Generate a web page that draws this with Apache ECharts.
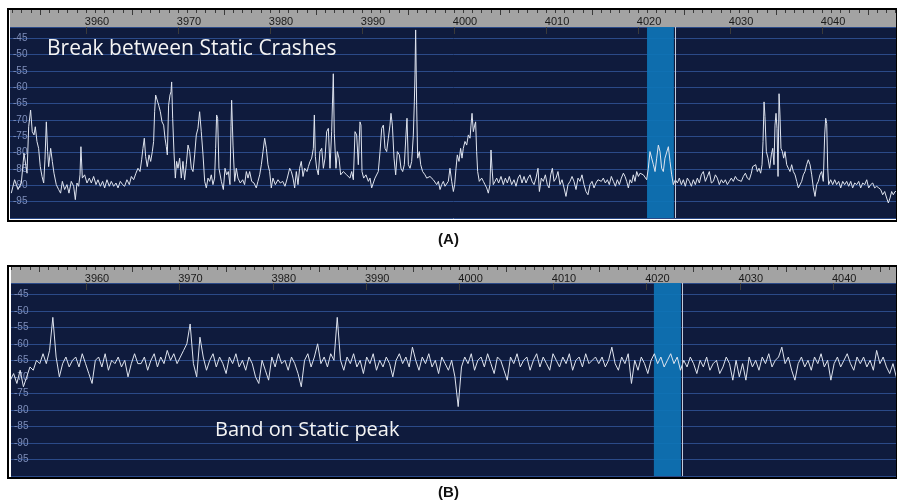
<!DOCTYPE html>
<html>
<head>
<meta charset="utf-8">
<script src="https://cdn.jsdelivr.net/npm/echarts@6/dist/echarts.min.js"></script>
<style>
  html, body { margin: 0; padding: 0; background: #fff; }
  #chart { width: 897px; height: 504px; }
</style>
</head>
<body>
<div id="chart"></div>
<script>
/* two spectrum snapshots, kHz vs dB */

// panel A trace, [kHz, dB]
const traceA = [
  [3951.88,-92.4],[3952.24,-88.3],[3952.61,-91.3],[3952.97,-89.3],[3953.26,-80.2],[3953.40,-80.7],[3953.59,-86.3],[3953.77,-72.1],
  [3953.98,-67.0],[3954.16,-73.6],[3954.35,-74.6],[3954.49,-72.1],[3954.67,-76.6],[3954.85,-78.7],[3955.03,-84.3],[3955.22,-87.3],
  [3955.40,-89.3],[3955.54,-82.2],[3955.69,-70.6],[3955.83,-79.7],[3955.94,-84.3],[3956.16,-78.7],[3956.34,-82.7],[3956.52,-86.3],
  [3956.77,-89.8],[3957.03,-91.3],[3957.24,-92.4],[3957.43,-88.8],[3957.68,-91.3],[3957.93,-89.8],[3958.15,-92.4],[3958.40,-88.8],
  [3958.66,-90.3],[3958.84,-94.4],[3959.02,-89.3],[3959.20,-90.3],[3959.35,-86.8],[3959.45,-78.2],[3959.60,-87.8],[3959.85,-86.8],
  [3960.11,-89.3],[3960.36,-87.8],[3960.58,-89.3],[3960.83,-87.3],[3961.09,-89.8],[3961.30,-88.3],[3961.56,-90.3],[3961.81,-88.8],
  [3962.03,-90.8],[3962.28,-88.3],[3962.53,-90.3],[3962.75,-88.8],[3963.01,-90.3],[3963.26,-89.3],[3963.48,-90.8],[3963.73,-88.8],
  [3963.98,-89.8],[3964.20,-90.3],[3964.45,-88.3],[3964.71,-89.8],[3964.93,-87.3],[3965.18,-88.3],[3965.43,-86.3],[3965.65,-84.8],
  [3965.87,-85.8],[3966.05,-82.2],[3966.19,-78.7],[3966.34,-75.6],[3966.48,-81.2],[3966.66,-84.3],[3966.85,-80.7],[3967.03,-82.7],
  [3967.21,-79.7],[3967.35,-76.6],[3967.46,-67.5],[3967.57,-62.4],[3967.72,-62.9],[3967.90,-65.5],[3968.08,-67.5],[3968.26,-70.6],
  [3968.44,-71.6],[3968.59,-75.6],[3968.73,-78.2],[3968.84,-80.7],[3968.98,-65.5],[3969.13,-62.4],[3969.24,-61.4],[3969.31,-58.4],
  [3969.42,-69.5],[3969.56,-79.7],[3969.71,-87.8],[3969.85,-82.7],[3970.00,-84.8],[3970.18,-81.7],[3970.36,-87.8],[3970.54,-82.7],
  [3970.72,-88.3],[3970.90,-83.7],[3971.09,-77.7],[3971.27,-79.7],[3971.45,-84.8],[3971.63,-85.8],[3971.81,-80.7],[3971.99,-74.6],
  [3972.17,-72.6],[3972.35,-67.5],[3972.53,-73.6],[3972.72,-80.7],[3972.90,-88.8],[3973.08,-90.8],[3973.26,-87.8],[3973.44,-88.8],
  [3973.62,-86.8],[3973.80,-89.8],[3973.98,-87.8],[3974.09,-78.7],[3974.20,-68.5],[3974.31,-69.5],[3974.45,-84.8],[3974.71,-88.8],
  [3974.93,-91.3],[3975.11,-84.8],[3975.29,-86.8],[3975.47,-85.8],[3975.65,-89.8],[3975.76,-72.1],[3975.83,-64.0],[3975.98,-77.7],
  [3976.16,-88.8],[3976.34,-84.8],[3976.52,-87.8],[3976.77,-89.3],[3977.03,-88.3],[3977.24,-89.8],[3977.43,-85.8],[3977.61,-87.8],
  [3977.79,-85.8],[3978.01,-88.8],[3978.26,-89.3],[3978.51,-90.8],[3978.69,-88.8],[3978.88,-86.8],[3979.06,-83.7],[3979.24,-79.7],
  [3979.42,-75.6],[3979.60,-78.7],[3979.78,-83.7],[3979.96,-85.8],[3980.14,-90.8],[3980.32,-87.8],[3980.58,-89.8],[3980.87,-88.3],
  [3981.12,-89.3],[3981.38,-88.8],[3981.63,-90.3],[3981.88,-87.8],[3982.14,-84.8],[3982.32,-85.8],[3982.50,-87.8],[3982.68,-90.8],
  [3982.86,-85.8],[3983.04,-89.8],[3983.22,-84.8],[3983.40,-82.7],[3983.59,-87.3],[3983.77,-84.8],[3984.02,-85.8],
  [3984.17,-84.3],[3984.35,-82.7],[3984.53,-81.7],[3984.71,-78.7],[3984.82,-68.5],[3984.93,-81.2],[3985.07,-84.8],[3985.25,-86.8],
  [3985.43,-79.7],[3985.62,-78.7],[3985.80,-84.8],[3985.98,-81.7],[3986.16,-73.6],[3986.34,-72.6],[3986.52,-84.8],[3986.70,-73.6],
  [3986.81,-63.0],[3986.88,-55.9],[3986.99,-74.1],[3987.17,-84.8],[3987.32,-79.7],[3987.50,-81.7],[3987.68,-86.8],[3987.97,-85.8],
  [3988.33,-86.8],[3988.69,-87.8],[3988.88,-85.8],[3989.06,-88.3],[3989.24,-73.6],[3989.42,-74.6],[3989.60,-83.7],[3989.78,-70.6],
  [3989.89,-71.6],[3990.00,-85.8],[3990.18,-87.8],[3990.43,-86.8],[3990.69,-88.8],[3990.87,-87.8],[3991.05,-90.8],[3991.23,-91.3],
  [3991.41,-87.8],[3991.59,-88.3],[3991.77,-85.8],[3991.96,-79.7],[3992.14,-72.6],[3992.32,-71.6],[3992.50,-78.7],[3992.68,-79.7],
  [3992.86,-75.6],[3993.04,-71.6],[3993.15,-68.0],[3993.30,-71.6],[3993.48,-81.7],[3993.66,-86.8],[3993.84,-79.7],[3994.06,-80.7],
  [3994.24,-84.8],[3994.42,-85.8],[3994.60,-83.7],[3994.78,-74.6],[3994.89,-69.5],[3995.04,-83.7],[3995.22,-84.8],[3995.40,-82.7],
  [3995.58,-74.6],[3995.69,-64.5],[3995.76,-56.0],[3995.83,-42.5],[3995.94,-65.5],[3996.05,-81.7],[3996.23,-79.7],[3996.38,-83.7],
  [3996.59,-85.8],[3996.85,-86.8],[3997.03,-87.8],[3997.39,-87.3],[3997.75,-88.3],[3998.12,-89.8],[3998.30,-88.8],[3998.48,-91.3],
  [3998.66,-89.8],[3998.84,-88.8],[3999.02,-90.3],[3999.20,-90.8],[3999.38,-88.8],[3999.56,-84.8],[3999.75,-88.8],[3999.93,-91.9],
  [4000.07,-89.8],[4000.22,-84.8],[4000.36,-80.7],[4000.54,-82.7],[4000.72,-78.7],[4000.87,-81.7],[4001.01,-78.7],[4001.19,-76.6],
  [4001.38,-77.7],[4001.56,-74.6],[4001.74,-75.6],[4001.85,-71.6],[4001.96,-68.0],[4002.10,-73.6],[4002.25,-71.6],[4002.35,-70.6],
  [4002.46,-79.7],[4002.57,-85.8],[4002.75,-88.8],[4003.01,-87.8],[4003.19,-88.8],[4003.37,-89.8],[4003.55,-90.8],[4003.73,-92.4],
  [4003.91,-89.8],[4004.02,-79.2],[4004.13,-84.8],[4004.27,-89.8],[4004.46,-88.8],[4004.64,-87.8],[4004.85,-89.3],[4005.11,-87.3],
  [4005.36,-89.8],[4005.58,-87.8],[4005.80,-89.3],[4006.01,-87.3],[4006.27,-89.8],[4006.52,-88.3],[4006.74,-90.3],[4006.96,-87.8],
  [4007.17,-86.8],[4007.39,-89.3],[4007.61,-87.3],[4007.83,-89.3],[4008.04,-87.8],[4008.26,-86.8],[4008.48,-88.8],[4008.70,-89.8],
  [4008.91,-87.8],[4009.13,-84.8],[4009.28,-91.9],[4009.49,-87.8],[4009.71,-88.8],[4009.93,-86.8],[4010.14,-89.8],[4010.33,-90.8],
  [4010.51,-86.8],[4010.69,-84.8],[4010.87,-88.8],[4011.09,-87.8],[4011.30,-85.8],[4011.52,-89.8],[4011.74,-88.3],[4011.96,-90.8],
  [4012.17,-93.4],[4012.39,-89.8],[4012.61,-88.8],[4012.83,-87.3],[4013.04,-88.8],[4013.26,-91.3],[4013.48,-87.8],[4013.69,-88.8],
  [4013.91,-86.8],[4014.13,-89.8],[4014.35,-91.9],[4014.56,-92.9],[4014.78,-89.8],[4015.00,-88.8],[4015.22,-90.8],[4015.43,-89.3],
  [4015.65,-88.3],
  [4016.01,-88.8],[4016.23,-87.8],[4016.45,-89.3],[4016.67,-88.3],[4016.88,-89.8],[4017.10,-87.3],[4017.32,-88.8],[4017.54,-90.3],
  [4017.75,-88.3],[4017.97,-89.8],[4018.19,-87.8],[4018.41,-86.3],[4018.59,-87.3],[4018.77,-88.8],[4018.95,-90.8],[4019.13,-88.3],
  [4019.31,-89.3],[4019.49,-86.8],[4019.67,-88.8],[4019.86,-85.8],[4020.04,-87.3],[4020.22,-86.3],[4020.40,-85.8],[4020.58,-86.8],
  [4020.76,-87.3],[4020.94,-88.3],[4021.12,-84.8],[4021.30,-79.7],[4021.49,-79.2],[4021.67,-83.7],[4021.85,-85.8],[4022.03,-81.7],
  [4022.21,-77.7],[4022.39,-79.7],[4022.57,-84.8],[4022.75,-85.8],[4022.93,-81.7],[4023.12,-81.7],[4023.30,-78.2],[4023.48,-82.7],
  [4023.66,-86.8],[4023.84,-89.8],[4024.06,-88.3],[4024.28,-89.3],[4024.49,-87.8],[4024.71,-89.8],[4024.93,-88.3],[4025.14,-90.3],
  [4025.36,-87.8],[4025.58,-88.8],[4025.80,-90.3],[4026.01,-88.3],[4026.23,-89.8],[4026.45,-87.8],[4026.67,-89.3],[4026.88,-86.8],
  [4027.10,-85.8],[4027.32,-88.8],[4027.54,-87.3],[4027.75,-85.8],[4027.97,-89.3],[4028.19,-88.8],[4028.41,-86.8],[4028.62,-87.8],
  [4028.84,-89.8],[4029.06,-88.3],[4029.28,-89.3],[4029.49,-88.3],[4029.71,-89.8],[4029.93,-88.8],[4030.14,-87.8],[4030.36,-88.8],
  [4030.58,-87.3],[4030.80,-88.3],[4031.01,-87.8],[4031.23,-88.8],[4031.45,-87.3],[4031.67,-86.3],[4031.88,-87.8],[4032.10,-88.3],
  [4032.32,-86.3],[4032.46,-84.3],[4032.61,-84.8],[4032.79,-83.7],[4032.97,-85.8],[4033.15,-84.8],[4033.33,-86.3],[4033.48,-83.7],
  [4033.59,-76.6],[4033.70,-64.5],[4033.80,-69.0],[4033.95,-79.7],[4034.13,-81.7],[4034.31,-84.8],[4034.49,-80.7],[4034.64,-78.7],
  [4034.78,-83.7],[4034.89,-71.6],[4035.00,-68.0],[4035.11,-72.6],[4035.22,-87.3],[4035.33,-62.0],[4035.43,-68.5],[4035.54,-78.7],
  [4035.69,-79.7],[4035.83,-81.7],[4035.98,-79.7],[4036.16,-83.7],[4036.34,-84.8],[4036.52,-85.8],[4036.70,-83.7],[4036.88,-85.8],
  [4037.07,-86.8],[4037.25,-88.8],[4037.43,-90.8],[4037.61,-90.8],[4037.79,-88.8],[4037.97,-86.8],[4038.15,-85.8],[4038.33,-83.7],
  [4038.51,-82.2],[4038.70,-83.7],[4038.88,-86.8],[4039.06,-90.8],[4039.24,-93.4],[4039.42,-89.8],[4039.60,-88.8],[4039.78,-86.8],
  [4039.96,-85.8],[4040.14,-88.8],[4040.29,-74.6],[4040.40,-69.5],[4040.51,-71.1],[4040.62,-84.8],[4040.72,-89.8],[4040.94,-88.3],
  [4041.16,-89.8],[4041.38,-88.3],[4041.59,-89.8],[4041.81,-88.8],[4042.03,-90.8],[4042.25,-88.8],[4042.46,-89.8],[4042.68,-88.8],
  [4042.90,-90.3],[4043.12,-88.8],[4043.33,-90.8],[4043.55,-89.3],[4043.77,-89.8],[4043.99,-88.8],[4044.20,-90.8],[4044.42,-89.3],
  [4044.64,-89.8],[4044.86,-88.3],[4045.07,-90.8],[4045.29,-89.8],[4045.51,-89.3],[4045.72,-90.8],[4045.94,-90.3],[4046.16,-90.8],
  [4046.38,-91.3],[4046.59,-92.9],[4046.81,-91.9],[4047.03,-93.9],[4047.21,-95.4],[4047.39,-93.9],[4047.57,-91.9],[4047.75,-92.9],
  [4047.94,-91.9],[4048.12,-91.9]
];

// panel B trace, dB, sampled every stepB kHz from startB
const startB = 3951.9;
const stepB = 0.35;
const levelsB = [
  -71,-69,-72,-68,-73,-70,-67,-68,-65,-66,-63,-66,-62,-52,-64,-70,-66,-64,-67,-65,
  -64,-67,-63,-66,-69,-72,-65,-64,-67,-63,-68,-65,-66,-64,-67,-65,-70,-66,-63,-66,
  -66,-64,-68,-65,-63,-67,-64,-66,-62,-65,-63,-66,-64,-62,-60,-54,-66,-70,-58,-64,
  -68,-65,-63,-67,-64,-66,-69,-64,-66,-63,-67,-65,-68,-64,-66,-70,-72,-65,-68,-71,
  -64,-67,-63,-66,-65,-68,-64,-66,-69,-73,-65,-63,-67,-64,-60,-66,-64,-67,-63,-65,
  -52,-65,-68,-64,-66,-63,-67,-65,-69,-64,-66,-63,-68,-65,-67,-64,-66,-70,-65,-63,
  -66,-64,-67,-61,-65,-68,-64,-66,-63,-67,-65,-69,-64,-66,-68,-65,-70,-79,-67,-64,
  -66,-63,-68,-65,-64,-67,-63,-66,-69,-64,-65,-68,-71,-64,-66,-63,-67,-65,-64,-68,
  -65,-63,-67,-64,-66,-68,-63,-65,-67,-64,-66,-63,-68,-65,-64,-67,-63,-66,-65,-64,
  -66,-64,-67,-65,-61,-66,-68,-64,-66,-63,-72,-65,-68,-64,-66,-69,-65,-63,-66,-64,
  -67,-65,-63,-66,-64,-68,-65,-67,-64,-66,-69,-65,-67,-64,-68,-66,-65,-69,-67,-64,
  -66,-71,-65,-70,-66,-71,-64,-67,-65,-68,-64,-66,-63,-67,-65,-64,-61,-66,-64,-68,
  -71,-66,-64,-67,-65,-68,-64,-66,-63,-67,-65,-71,-66,-64,-67,-65,-63,-66,-68,-64,
  -66,-64,-67,-65,-68,-62,-66,-64,-67,-69,-66,-70
];

const rangeA = [3951.74, 4048.15];
const rangeB = [3951.97, 4046.83];
const bandA = [4020.98, 4023.9];
const bandB = [4020.8, 4023.7];
const freqLabels = [3960, 3970, 3980, 3990, 4000, 4010, 4020, 4030, 4040];
const halfTicks = [3955, 3965, 3975, 3985, 3995, 4005, 4015, 4025, 4035, 4045];
const dbRange = [-100, -41.6];
const captionA = 'Break between Static Crashes';
const captionB = 'Band on Static peak';

const unitTicks = [];
for (let f = 3952; f <= 4048; f++) unitTicks.push(f);

const traceB = levelsB.map((v, i) => [+(startB + i * stepB).toFixed(2), v]);

const NAVY = '#0f1b3d';
const GRID = '#2b4a88';
const BAND = '#0e74b6';

function plotGrid(left, top, width, height) {
  return { left, top, width, height, show: true, backgroundColor: NAVY, borderWidth: 0 };
}
function barGrid(left, top, width, height) {
  return { left, top, width, height, show: true, backgroundColor: '#a3a3a3', borderWidth: 0 };
}
function hiddenX(gi, range) {
  return { type: 'value', gridIndex: gi, min: range[0], max: range[1], show: false };
}
function tickX(gi, range, values, len, labels) {
  return {
    type: 'value', gridIndex: gi, min: range[0], max: range[1], position: 'top',
    axisLine: { show: false },
    splitLine: { show: false },
    axisTick: { show: true, inside: true, length: len, customValues: values, lineStyle: { color: '#3a3a3a', width: 1 } },
    axisLabel: labels ? {
      show: true, inside: true, customValues: values, margin: 6,
      color: '#1a1a1a', fontSize: 11, fontFamily: 'Arial', padding: [0, 0, 0, 22],
      formatter: (v) => String(v),
    } : { show: false },
  };
}
function dbY(gi) {
  return {
    type: 'value', gridIndex: gi, min: dbRange[0], max: dbRange[1], interval: 5,
    axisLine: { show: false }, axisTick: { show: false },
    axisLabel: {
      inside: true, margin: 3, color: '#7f8fbb', fontSize: 10, fontFamily: 'Arial',
      formatter: (v) => (Math.abs(v % 5) < 0.01 && v > -100 ? String(v) : ''),
    },
    splitLine: { show: true, lineStyle: { color: GRID, width: 1 } },
  };
}
function hiddenY(gi) {
  return { type: 'value', gridIndex: gi, min: 0, max: 1, show: false };
}
function trace(xi, yi, data, band) {
  return {
    type: 'line', xAxisIndex: xi, yAxisIndex: yi, data,
    showSymbol: false, silent: true, animation: false,
    lineStyle: { color: '#dfe4ef', width: 1 },
    markArea: {
      silent: true,
      itemStyle: { color: BAND, opacity: 0.92 },
      data: [[{ xAxis: band[0] }, { xAxis: band[1] }]],
    },
    markLine: {
      silent: true, symbol: 'none', label: { show: false },
      lineStyle: { color: '#c3cbdc', width: 1, type: 'solid' },
      data: [{ xAxis: band[1] + 0.1 }],
    },
  };
}

const chart = echarts.init(document.getElementById('chart'), null, { renderer: 'canvas' });
chart.setOption({
  animation: false,
  backgroundColor: '#fff',
  grid: [
    plotGrid(10, 27, 887, 191),
    barGrid(10, 10, 887, 17),
    plotGrid(11, 283, 886, 193),
    barGrid(11, 267, 886, 16),
  ],
  xAxis: [
    hiddenX(0, rangeA),
    tickX(1, rangeA, freqLabels, 7, true),
    tickX(1, rangeA, halfTicks, 5, false),
    tickX(1, rangeA, unitTicks, 3, false),
    hiddenX(2, rangeB),
    tickX(3, rangeB, freqLabels, 7, true),
    tickX(3, rangeB, halfTicks, 5, false),
    tickX(3, rangeB, unitTicks, 3, false),
  ],
  yAxis: [dbY(0), hiddenY(1), dbY(2), hiddenY(3)],
  series: [
    trace(0, 0, traceA, bandA),
    trace(4, 2, traceB, bandB),
  ],
  graphic: [
    { type: 'rect', z: 100, shape: { x: 8, y: 9, width: 889, height: 212 },
      style: { fill: 'transparent', stroke: '#000', lineWidth: 2 } },
    { type: 'rect', z: 100, shape: { x: 8, y: 266, width: 889, height: 212 },
      style: { fill: 'transparent', stroke: '#000', lineWidth: 2 } },
    { type: 'text', z: 110, left: 47, top: 39,
      style: { text: captionA, fill: '#f4f4f4', font: '21px "Comic Sans MS", "Open Sans", sans-serif' } },
    { type: 'text', z: 110, left: 215, top: 420,
      style: { text: captionB, fill: '#f4f4f4', font: '20px "Comic Sans MS", "Open Sans", sans-serif' } },
    { type: 'text', z: 110, left: 'center', top: 232,
      style: { text: '(A)', fill: '#111', font: 'bold 15px Arial' } },
    { type: 'text', z: 110, left: 'center', top: 485,
      style: { text: '(B)', fill: '#111', font: 'bold 15px Arial' } },
  ],
});
</script>
</body>
</html>
